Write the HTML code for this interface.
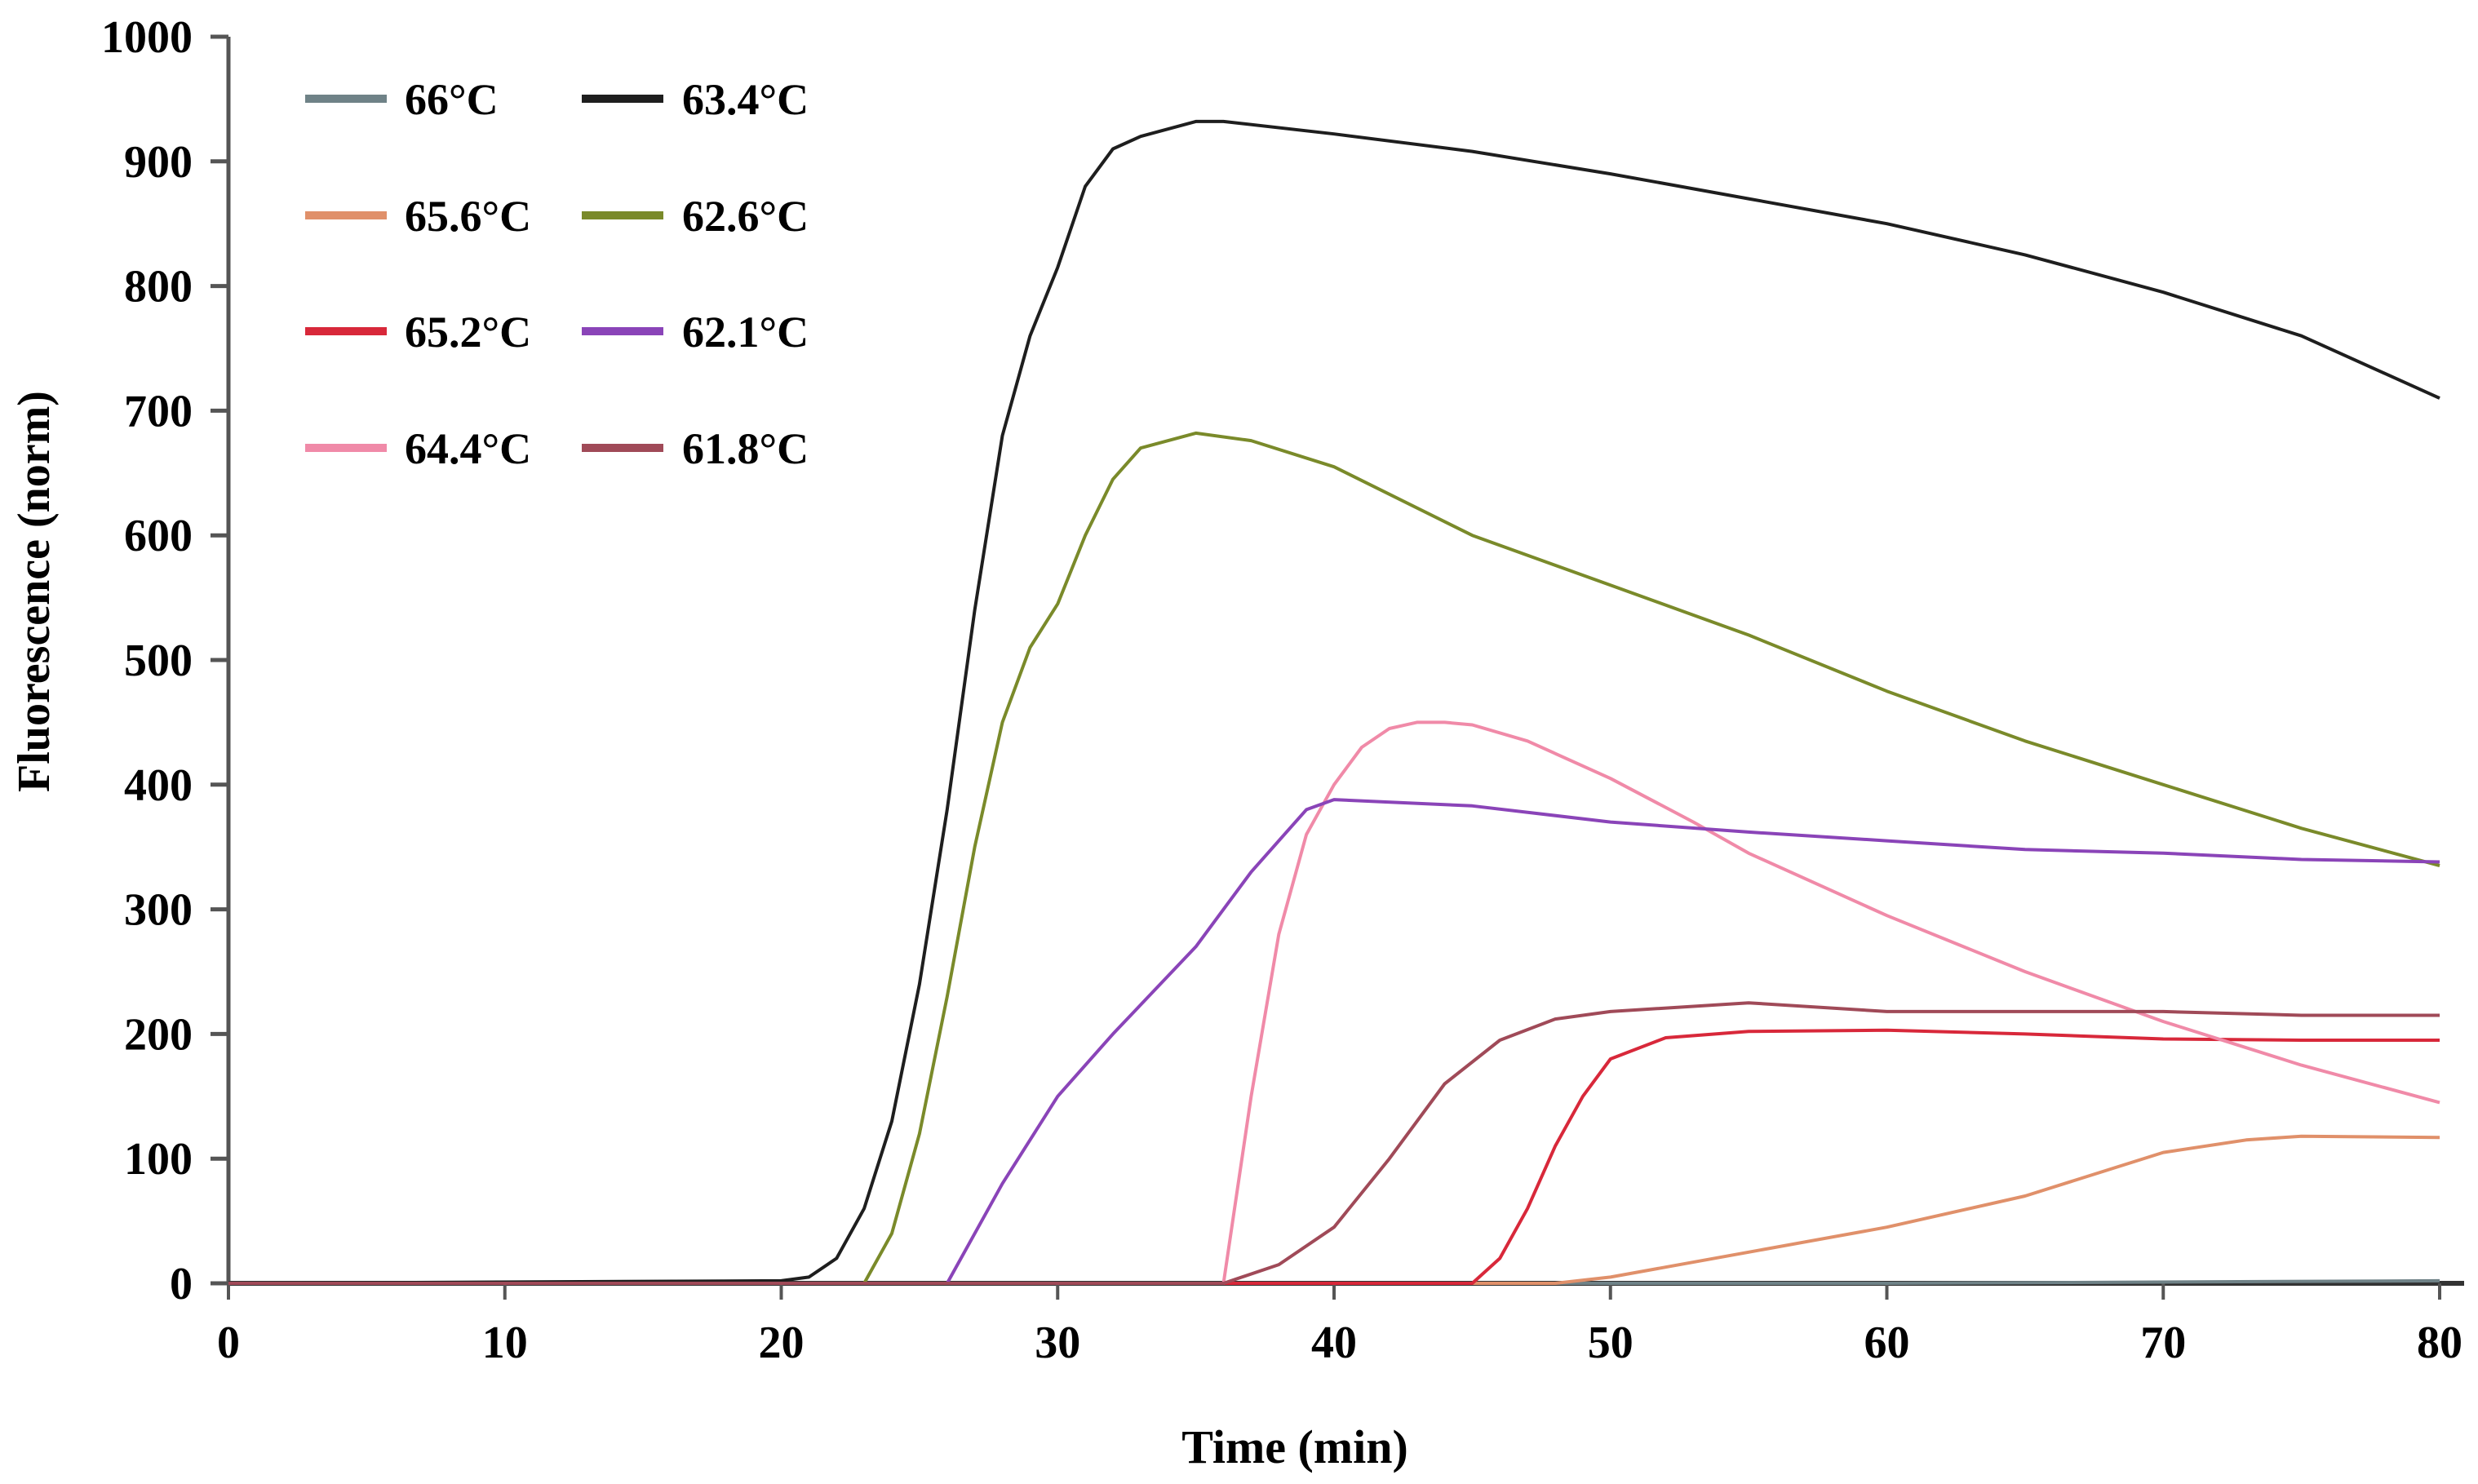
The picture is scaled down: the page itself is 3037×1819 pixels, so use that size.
<!DOCTYPE html>
<html><head><meta charset="utf-8"><style>
html,body{margin:0;padding:0;background:#fff;}
svg{display:block;font-family:"Liberation Serif",serif;font-weight:bold;}
</style></head><body>
<svg id="chart" width="3037" height="1819" viewBox="0 0 3037 1819" xmlns="http://www.w3.org/2000/svg">
<g id="axes"></g>
<g id="series"></g>
<g id="legend"></g>
<text x="0" y="0" transform="translate(60,725) rotate(-90)" text-anchor="middle" font-size="56">Fluorescence (norm)</text>
<text x="1587" y="1793" text-anchor="middle" font-size="58">Time (min)</text>
</svg>
<script>
const xTicks=[0,10,20,30,40,50,60,70,80];
const yTicks=[0,100,200,300,400,500,600,700,800,900,1000];
const seriesNames=["66°C","65.6°C","65.2°C","64.4°C","63.4°C","62.6°C","62.1°C","61.8°C"];
const seriesColors=["#6f8287","#e0906a","#d8283a","#f08aa8","#1e1e1e","#7a8a2a","#8a44b8","#a04a58"];
const t66=[0,20,40,60,80];
const v66=[0,0,0,0,2];
const t656=[0,48,50,55,60,65,70,73,75,80];
const v656=[0,0,5,25,45,70,105,115,118,117];
const t652=[0,45,46,47,48,49,50,52,55,60,65,70,75,80];
const v652=[0,0,20,60,110,150,180,197,202,203,200,196,195,195];
const t644=[0,36,37,38,39,40,41,42,43,44,45,47,50,53,55,60,65,70,75,80];
const v644=[0,0,150,280,360,400,430,445,450,450,448,435,405,370,345,295,250,210,175,145];
const t634=[0,20,21,22,23,24,25,26,27,28,29,30,31,32,33,35,36,40,45,50,55,60,65,70,75,80];
const v634=[0,2,5,20,60,130,240,380,540,680,760,815,880,910,920,932,932,922,908,890,870,850,825,795,760,710];
const t626=[0,23,24,25,26,27,28,29,30,31,32,33,35,37,40,45,50,55,60,65,70,75,80];
const v626=[0,0,40,120,230,350,450,510,545,600,645,670,682,676,655,600,560,520,475,435,400,365,335];
const t621=[0,26,28,30,32,35,37,39,40,45,50,55,60,65,70,75,80];
const v621=[0,0,80,150,200,270,330,380,388,383,370,362,355,348,345,340,338];
const t618=[0,36,38,40,42,44,46,48,50,55,60,65,70,75,80];
const v618=[0,0,15,45,100,160,195,212,218,225,218,218,218,215,215];
const seriesT=[t66,t656,t652,t644,t634,t626,t621,t618];
const seriesV=[v66,v656,v652,v644,v634,v626,v621,v618];

const X0=280,X1=2990,Y0=1573,Y1=45;
const xs=t=>X0+(t/80)*(X1-X0);
const ys=v=>Y0-(v/1000)*(Y0-Y1);
const NS="http://www.w3.org/2000/svg";
function mk(tag,attrs,parent){const e=document.createElementNS(NS,tag);for(const k in attrs)e.setAttribute(k,attrs[k]);parent.appendChild(e);return e;}
const axes=document.getElementById('axes');
let ax=mk('line',{x1:X0,y1:Y1,x2:X0,y2:Y0,stroke:'#555','stroke-width':5},axes);


ax=mk('line',{x1:X0,y1:Y0,x2:X1+30,y2:Y0,stroke:'#333','stroke-width':6},axes);


yTicks.forEach(v=>{
  const tk=mk('line',{x1:X0-22,y1:ys(v),x2:X0,y2:ys(v),stroke:'#555','stroke-width':5},axes);
  
  
  const tx=mk('text',{x:236,y:ys(v)+19,'text-anchor':'end','font-size':56},axes);
  tx.textContent=v;
  
  
});
xTicks.forEach(t=>{
  const tk=mk('line',{x1:xs(t),y1:Y0,x2:xs(t),y2:Y0+20,stroke:'#555','stroke-width':4},axes);
  
  
  const tx=mk('text',{x:xs(t),y:1664,'text-anchor':'middle','font-size':56},axes);
  tx.textContent=t;
  
  
});
const sg=document.getElementById('series');
seriesT.forEach((ts,i)=>{
  const d=ts.map((t,j)=>(j?'L':'M')+xs(t).toFixed(1)+' '+ys(seriesV[i][j]).toFixed(1)).join(' ');
  const p=mk('path',{d:d,fill:'none',stroke:seriesColors[i],'stroke-width':4,'stroke-linejoin':'round'},sg);
  
  
});
const lg=document.getElementById('legend');
const rowsY=[121,264,406,549];
seriesNames.forEach((n,i)=>{
  const col=i<4?0:1,row=i%4;
  const sx=col?713:374, y=rowsY[row];
  const sw=mk('rect',{x:sx,y:y-5,width:100,height:10,fill:seriesColors[i]},lg);
  
  
  const tx=mk('text',{x:col?836:496,y:y+19,'font-size':54},lg);
  tx.textContent=n;
  
  
});
</script>
</body></html>
